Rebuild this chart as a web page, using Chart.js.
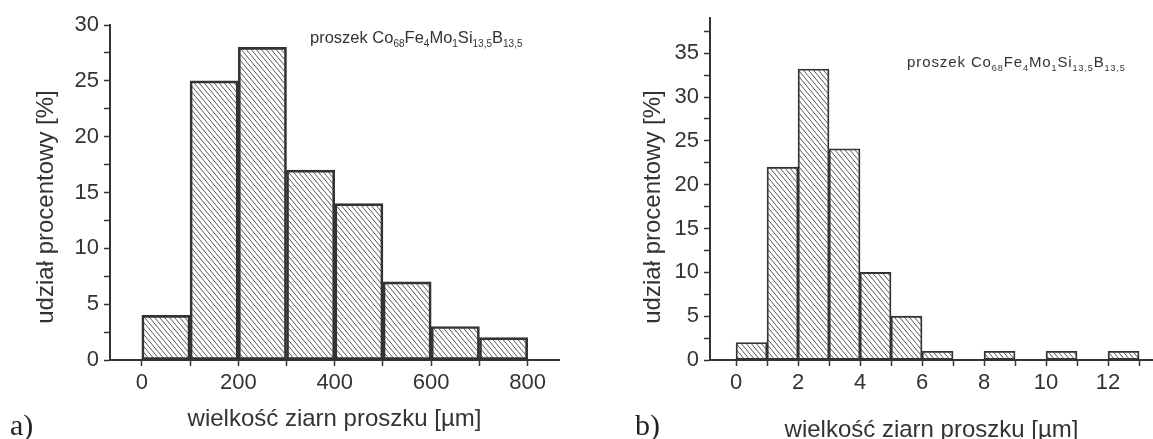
<!DOCTYPE html>
<html>
<head>
<meta charset="utf-8">
<script src="https://cdn.jsdelivr.net/npm/chart.js@4.4.0/dist/chart.umd.min.js"></script>
<style>
  html, body { margin: 0; padding: 0; background: #fff; }
  #wrap { position: relative; width: 1153px; height: 439px; overflow: hidden; }
  .box { position: absolute; top: 0; height: 439px; }
  #boxA { left: 0; width: 575px; }
  #boxB { left: 575px; width: 578px; }
</style>
</head>
<body>
<div id="wrap">
  <div class="box" id="boxA"><canvas id="chartA"></canvas></div>
  <div class="box" id="boxB"><canvas id="chartB"></canvas></div>
</div>
<script>
// a) bins 100 um wide (bin centres)
const binsA = [50, 150, 250, 350, 450, 550, 650, 750];
const shareA = [4, 25, 28, 17, 14, 7, 3, 2];
const xLabelsA = [0, 200, 400, 600, 800];
const yLabelsA = [0, 5, 10, 15, 20, 25, 30];

// b) bins 1 um wide, empty bins left out
const binsB = [0.5, 1.5, 2.5, 3.5, 4.5, 5.5, 6.5, 7.5, 8.5, 9.5, 10.5, 11.5, 12.5];
const shareB = [2, 22, 33.2, 24.1, 10, 5, 1, null, 1, null, 1, null, 1];
const xLabelsB = [0, 2, 4, 6, 8, 10, 12];
const yLabelsB = [0, 5, 10, 15, 20, 25, 30, 35];

const xTitle = 'wielkość ziarn proszku [µm]';
const yTitle = 'udział procentowy [%]';
const formula = [['proszek Co', 0], ['68', 1], ['Fe', 0], ['4', 1], ['Mo', 0], ['1', 1], ['Si', 0], ['13,5', 1], ['B', 0], ['13,5', 1]];

const ink = '#333';
const sans = 'Arial, "Liberation Sans", Helvetica, sans-serif';

function hatch(w, h) {
  const c = document.createElement('canvas');
  c.width = w; c.height = h;
  const g = c.getContext('2d');
  g.strokeStyle = '#444';
  g.lineWidth = 0.9;
  g.beginPath();
  for (let k = -1; k <= 1; k++) {
    g.moveTo(k * w, 0);
    g.lineTo(k * w + w, h);
  }
  g.stroke();
  return g.createPattern(c, 'repeat');
}

// y title (placed by hand, it sits a bit below the axis centre), formula and panel letter
function notes(id, o) {
  return {
    id: id,
    afterDraw(chart) {
      const ctx = chart.ctx;
      ctx.save();
      ctx.fillStyle = ink;

      ctx.save();
      ctx.translate(o.ytx, o.yty);
      ctx.rotate(-Math.PI / 2);
      ctx.textAlign = 'center';
      ctx.textBaseline = 'middle';
      ctx.font = '24px ' + sans;
      ctx.fillText(yTitle, 0, 0);
      ctx.restore();

      ctx.textBaseline = 'alphabetic';
      ctx.letterSpacing = o.spacing + 'px';
      let x = o.fx;
      formula.forEach(([t, sub]) => {
        ctx.font = (sub ? Math.round(o.size * 0.62) : o.size) + 'px ' + sans;
        ctx.fillText(t, x, sub ? o.fy + 4 : o.fy);
        x += ctx.measureText(t).width;
      });
      ctx.letterSpacing = '0px';
      ctx.font = '30px "Liberation Serif", "Times New Roman", serif';
      ctx.fillStyle = '#222';
      ctx.fillText(o.tag, o.tx, o.ty);
      ctx.restore();
    }
  };
}

function makeChart(el, bins, share, o) {
  return new Chart(document.getElementById(el), {
    type: 'bar',
    data: {
      datasets: [{
        data: bins.map((b, i) => ({ x: b, y: share[i] })),
        backgroundColor: hatch(5, 6),
        borderColor: ink,
        borderWidth: o.barLine,
        borderSkipped: false,
        barPercentage: 1,
        categoryPercentage: 1
      }]
    },
    options: {
      responsive: true,
      maintainAspectRatio: false,
      animation: false,
      layout: { padding: o.pad },
      plugins: { legend: { display: false }, tooltip: { enabled: false } },
      scales: {
        x: {
          type: 'linear',
          offset: false,
          min: o.xMin, max: o.xMax,
          bounds: 'ticks',
          afterFit: s => { s.height = o.xHeight; },
          border: { color: ink, width: 2 },
          grid: { offset: false, drawOnChartArea: false, tickLength: 6, tickColor: ink, tickWidth: 1.5 },
          ticks: {
            stepSize: o.xStep, includeBounds: false, autoSkip: false, maxRotation: 0,
            padding: 4, color: ink, font: { family: sans, size: 22 },
            callback: v => o.xLabels.includes(v) ? String(v) : ''
          },
          title: { display: true, text: xTitle, color: ink, font: { family: sans, size: 24 }, padding: { top: 0, bottom: o.xTitlePad } }
        },
        y: {
          min: 0, max: o.yMax,
          bounds: 'ticks',
          afterFit: s => { s.width = o.yWidth; },
          border: { color: ink, width: 2 },
          grid: { drawOnChartArea: false, tickLength: 6, tickColor: ink, tickWidth: 1.5 },
          ticks: {
            stepSize: 2.5, includeBounds: false, autoSkip: false,
            padding: 5, color: ink, font: { family: sans, size: 22 },
            callback: v => o.yLabels.includes(v) ? String(v) : ''
          }
        }
      }
    },
    plugins: [o.notes]
  });
}

makeChart('chartA', binsA, shareA, {
  pad: { left: 0, right: 16, top: 25, bottom: 0 },
  xMin: -66, xMax: 865, xStep: 100, xLabels: xLabelsA, xHeight: 79, xTitlePad: 5,
  yMax: 30, yLabels: yLabelsA, yWidth: 110,
  barLine: 2,
  notes: notes('notesA', { ytx: 46, yty: 207, fx: 310, fy: 43, size: 16.5, spacing: 0, tag: 'a)', tx: 10, ty: 435 })
});

makeChart('chartB', binsB, shareB, {
  pad: { left: 0, right: 0, top: 17, bottom: 0 },
  xMin: -0.84, xMax: 13.45, xStep: 1, xLabels: xLabelsB, xHeight: 79, xTitlePad: -6,
  yMax: 39, yLabels: yLabelsB, yWidth: 135,
  barLine: 1.2,
  notes: notes('notesB', { ytx: 78, yty: 207, fx: 332, fy: 67, size: 15, spacing: 0.9, tag: 'b)', tx: 60, ty: 435 })
});
</script>
</body>
</html>
